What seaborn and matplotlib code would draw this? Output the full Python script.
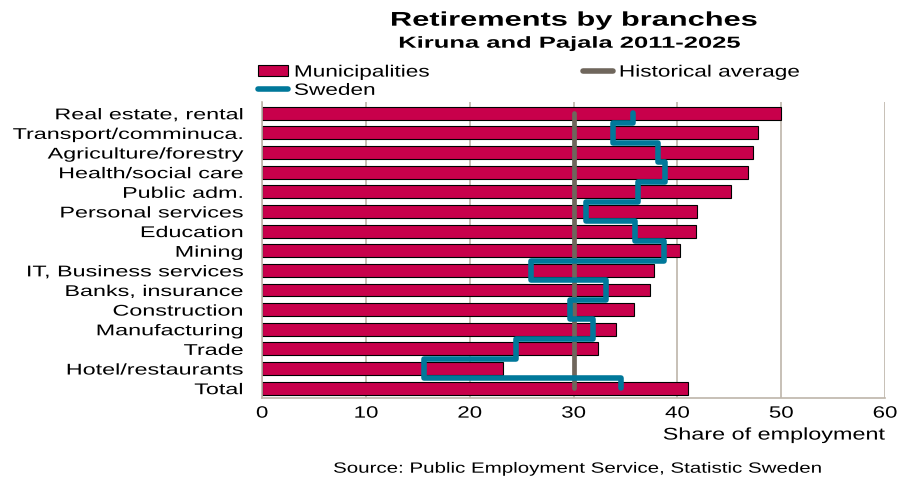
import matplotlib
matplotlib.use("Agg")
import matplotlib.pyplot as plt
from matplotlib.lines import Line2D
from matplotlib.patches import Patch
from matplotlib.patheffects import AbstractPathEffect
from matplotlib.transforms import Affine2D
import seaborn as sns
import pandas as pd

# data
branches = ["Real estate, rental", "Transport/comminuca.", "Agriculture/forestry",
            "Health/social care", "Public adm.", "Personal services", "Education",
            "Mining", "IT, Business services", "Banks, insurance", "Construction",
            "Manufacturing", "Trade", "Hotel/restaurants", "Total"]
municipalities = [50.0, 47.8, 47.3, 46.8, 45.2, 41.9, 41.8, 40.3, 37.8, 37.4,
                  35.8, 34.1, 32.4, 23.2, 41.0]
sweden = [35.7, 33.8, 38.1, 38.8, 36.2, 31.2, 35.9, 38.7, 25.9, 33.1,
          29.7, 31.9, 24.5, 15.6, 34.6]
historical_average = 30
x_ticks = [0, 10, 20, 30, 40, 50, 60]

BAR = "#C8004B"
TEAL = "#00789A"
GREY = "#6F665C"
GRID = "#BEB5AA"


# the reference uses a wide (extended) type face; stretch glyphs horizontally
class Stretch(AbstractPathEffect):
    def __init__(self, sx, anchor=0.0):
        super().__init__()
        self.sx = sx
        self.anchor = anchor  # 0 left, 0.5 center, 1 right

    def draw_path(self, renderer, gc, tpath, affine, rgbFace=None):
        v = tpath.vertices
        ref = self.anchor * (v[:, 0].max() if len(v) else 0)
        tr = Affine2D().translate(-ref, 0).scale(self.sx, 1).translate(ref, 0) + affine
        renderer.draw_path(gc, tpath, tr, rgbFace)


sns.set_style("white")
plt.rcParams["font.family"] = ["Liberation Sans", "DejaVu Sans"]
plt.rcParams["text.color"] = "black"
plt.rcParams["xtick.color"] = "black"
plt.rcParams["ytick.color"] = "black"
plt.rcParams["axes.labelcolor"] = "black"

df = pd.DataFrame({"branch": branches, "share": municipalities})

fig = plt.figure(figsize=(8.98, 4.82), dpi=100)
ax = fig.add_axes([0.2918, 0.1743, 0.6937, 0.6131])

sns.barplot(data=df, y="branch", x="share", orient="h", color=BAR,
            saturation=1, edgecolor="black", linewidth=0.8, width=0.66, ax=ax, zorder=2)

# Sweden as a vertical step line through the category bands
n = len(sweden)
xs, ys = [sweden[0]], [0]
for i in range(n):
    top = i - 0.5 if i > 0 else 0
    bot = i + 0.5 if i < n - 1 else n - 1
    xs += [sweden[i], sweden[i]]
    ys += [top, bot]
ax.plot(xs, ys, color=TEAL, lw=4.0, solid_capstyle="round",
        solid_joinstyle="round", zorder=4)

ax.plot([historical_average, historical_average], [0, n - 1], color=GREY, lw=3.4,
        solid_capstyle="round", zorder=3)

ax.set_xlim(0, 60)
ax.set_ylim(n - 0.5, -0.55)
ax.set_xticks(x_ticks)
ax.xaxis.grid(True, color=GRID, lw=1.2, zorder=0)
ax.set_axisbelow(True)
for s in ["top", "right"]:
    ax.spines[s].set_visible(False)
for s in ["bottom", "left"]:
    ax.spines[s].set_color(GRID)
    ax.spines[s].set_linewidth(1.2)
ax.tick_params(axis="x", labelsize=11.8, length=0, pad=5.5)
ax.tick_params(axis="y", labelsize=11.2, length=0, pad=13.7)
ax.set_ylabel("")
ax.set_xlabel("Share of employment", fontsize=12.2, loc="right", labelpad=5)
ax.xaxis.label.set_path_effects([Stretch(1.38, 1.0)])
for t in ax.get_xticklabels():
    t.set_path_effects([Stretch(1.36, 0.5)])
for t in ax.get_yticklabels():
    t.set_path_effects([Stretch(1.5, 1.0)])

t1 = fig.text(0.639, 0.9467, "Retirements by branches", ha="center", va="baseline",
              fontsize=14.3, fontweight="bold")
t1.set_path_effects([Stretch(1.55, 0.5)])
t2 = fig.text(0.635, 0.901, "Kiruna and Pajala 2011-2025", ha="center", va="baseline",
              fontsize=11.5, fontweight="bold")
t2.set_path_effects([Stretch(1.6, 0.5)])

handles = [Patch(facecolor=BAR, edgecolor="black", linewidth=0.8),
           Line2D([0], [0], color=TEAL, lw=4.0, solid_capstyle="round"),
           Line2D([0], [0], color=GREY, lw=4.0, solid_capstyle="round")]
labels = ["Municipalities", "Sweden", "Historical average"]
leg = fig.legend(handles, labels, ncol=2, loc="upper left", bbox_to_anchor=(0.2873, 0.866),
                 frameon=False, fontsize=11.8, handlelength=1.83, handleheight=0.67,
                 handletextpad=0.36, columnspacing=11.6, labelspacing=0.2,
                 borderpad=0, borderaxespad=0)
for t in leg.get_texts():
    t.set_path_effects([Stretch(1.38, 0.0)])

src = fig.text(0.6437, 0.0193, "Source: Public Employment Service, Statistic Sweden",
               ha="center", va="baseline", fontsize=10.7)
src.set_path_effects([Stretch(1.38, 0.5)])

fig.savefig("out.png", dpi=100)
